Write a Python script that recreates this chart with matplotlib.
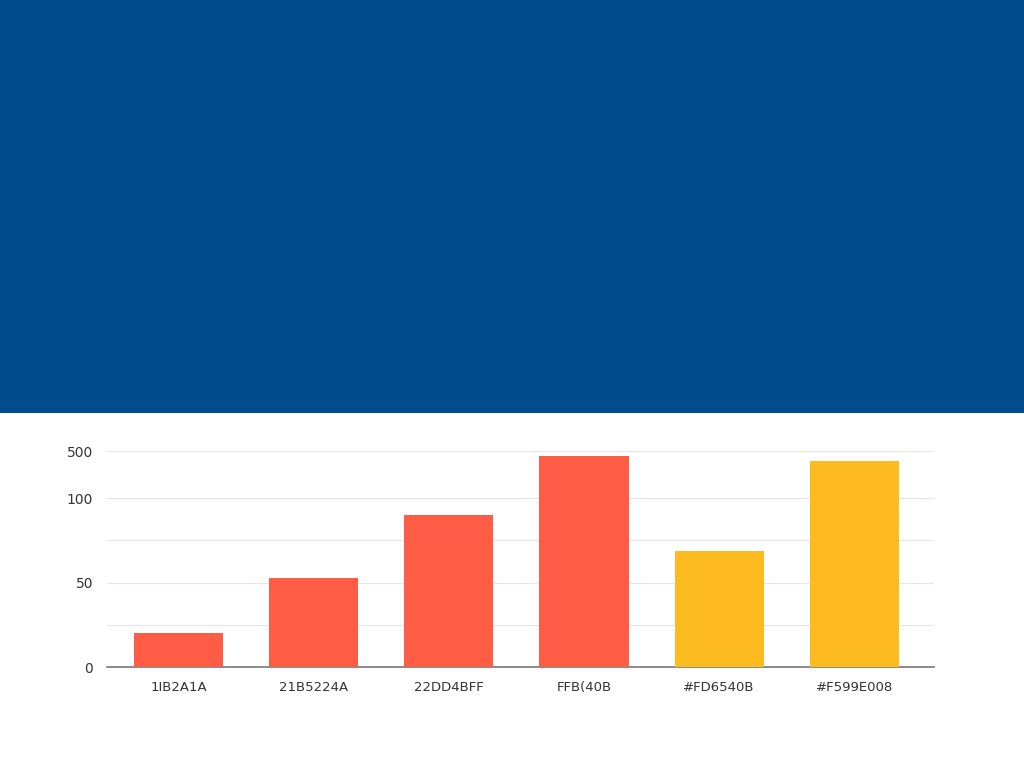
import matplotlib
matplotlib.use("Agg")
import matplotlib.pyplot as plt
import matplotlib.patches as patches

# data
categories = ["1IB2A1A", "21B5224A", "22DD4BFF", "FFB(40B", "#FD6540B", "#F599E008"]
values = [20, 53, 90, 125, 69, 122]
bar_colors = ["#FF5C45", "#FF5C45", "#FF5C45", "#FF5C45", "#FDBB1F", "#FDBB1F"]
ytick_vals = [0, 25, 50, 75, 100, 128]
ytick_labels = ["0", "", "50", "", "100", "500"]

fig = plt.figure(figsize=(10.24, 7.68), dpi=100, facecolor="white")

# blue band on top
band = patches.Rectangle((0, 0.4622), width=1, height=0.5378, facecolor="#004B8B",
                         edgecolor="none", transform=fig.transFigure, zorder=0)
fig.add_artist(band)

ax = fig.add_axes([0.1045, 0.1315, 0.8076, 0.2812])
ax.bar(range(len(values)), values, width=0.66, color=bar_colors, zorder=3)

ax.set_xlim(-0.53, 5.59)
ax.set_ylim(0, 128)
ax.set_yticks(ytick_vals)
ax.set_yticklabels(ytick_labels)
ax.set_xticks(range(len(categories)))
ax.set_xticklabels(categories)

ax.grid(axis="y", color="#E6E6E6", linewidth=0.8, zorder=0)
for s in ["top", "right", "left"]:
    ax.spines[s].set_visible(False)
ax.spines["bottom"].set_color("#777777")
ax.spines["bottom"].set_linewidth(1.2)
ax.tick_params(axis="both", length=0, colors="#333333")
ax.tick_params(axis="y", labelsize=10, pad=10)
ax.tick_params(axis="x", labelsize=9.5, pad=10)

fig.savefig("out.png", dpi=100, facecolor="white")
